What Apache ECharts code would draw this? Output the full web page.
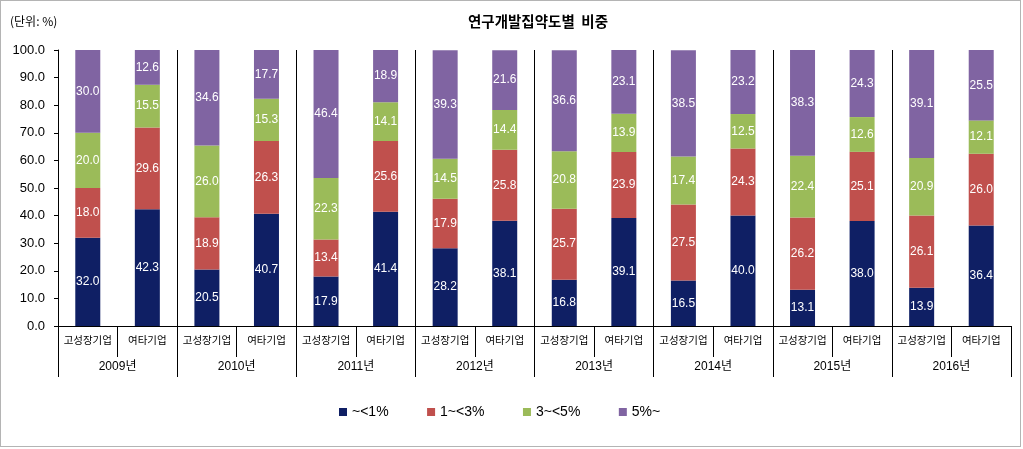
<!DOCTYPE html>
<html>
<head>
<meta charset="utf-8">
<script src="https://cdn.jsdelivr.net/npm/echarts@6/dist/echarts.min.js"></script>
<style>
html,body{margin:0;padding:0;background:#fff;}
#c{width:1023px;height:449px;}
#b{position:absolute;left:0;top:0;width:1021px;height:447px;border:1px solid #b4b4b4;box-sizing:border-box;pointer-events:none;}
</style>
</head>
<body>
<div id="c"></div>
<div id="b"></div>
<script>
const years = ['2009년','2010년','2011년','2012년','2013년','2014년','2015년','2016년'];
const groups = ['고성장기업','여타기업'];
const seriesNames = ['~<1%','1~<3%','3~<5%','5%~'];
const s1 = [32.0,42.3,20.5,40.7,17.9,41.4,28.2,38.1,16.8,39.1,16.5,40.0,13.1,38.0,13.9,36.4];
const s2 = [18.0,29.6,18.9,26.3,13.4,25.6,17.9,25.8,25.7,23.9,27.5,24.3,26.2,25.1,26.1,26.0];
const s3 = [20.0,15.5,26.0,15.3,22.3,14.1,14.5,14.4,20.8,13.9,17.4,12.5,22.4,12.6,20.9,12.1];
const s4 = [30.0,12.6,34.6,17.7,46.4,18.9,39.3,21.6,36.6,23.1,38.5,23.2,38.3,24.3,39.1,25.5];
const colors = ['#0f1f64','#c0504d','#9bbb59','#8064a2'];

const cats = [];
years.forEach(y => groups.forEach(g => cats.push(g)));
const FONT = '"Liberation Sans", Arial, "Noto Sans CJK KR", sans-serif';
const KFONT = '"Noto Sans CJK KR", "Liberation Sans", sans-serif';

const GL = 58, GR = 12, GT = 50, GB = 123;
const groupW = (1023 - GL - GR) / years.length;
const innerYears = years.slice(1, years.length - 1);

const chart = echarts.init(document.getElementById('c'));
const data = [s1,s2,s3,s4];

chart.setOption({
  animation: false,
  textStyle: {fontFamily: FONT},
  title: {
    text: '연구개발집약도별  비중',
    left: 468, top: 14, padding: 0,
    textStyle: {fontFamily: KFONT, fontSize: 14.5, fontWeight: 'bold', color: '#000'}
  },
  graphic: [{
    type: 'text', left: 10, top: 15,
    style: {text: '(단위: %)', font: '12px ' + KFONT, fill: '#000'}
  }],
  legend: {
    left: 339, top: 405, padding: 0,
    itemWidth: 8, itemHeight: 8, itemGap: 38.5,
    icon: 'rect',
    textStyle: {fontFamily: FONT, fontSize: 14, color: '#000'},
    data: seriesNames
  },
  grid: [
    {left: GL, right: GR, top: GT, bottom: GB},
    {left: GL + groupW, right: GR + groupW, top: GT, bottom: GB}
  ],
  xAxis: [
    {
      type: 'category', data: cats, position: 'bottom', gridIndex: 0,
      axisLine: {show: true, lineStyle: {color: '#000', width: 1}},
      axisTick: {show: true, interval: 0, length: 31, lineStyle: {color: '#000'}},
      axisLabel: {interval: 0, margin: 9, fontFamily: KFONT, fontSize: 10.5, color: '#000'},
      splitLine: {show: false}
    },
    {
      type: 'category', data: years, position: 'bottom', gridIndex: 0,
      axisLine: {show: false},
      axisTick: {show: true, interval: 0, length: 51, lineStyle: {color: '#000'}},
      axisLabel: {interval: 0, margin: 35, fontFamily: FONT, fontSize: 12, color: '#000'},
      splitLine: {show: false}
    },
    {
      type: 'category', data: innerYears, position: 'top', gridIndex: 1,
      axisLine: {show: false},
      axisTick: {show: true, interval: 0, length: 8, lineStyle: {color: '#000'}},
      axisLabel: {show: false},
      splitLine: {show: true, interval: 0, lineStyle: {color: '#000', width: 1}}
    }
  ],
  yAxis: [
    {
      type: 'value', min: 0, max: 100, interval: 10, gridIndex: 0,
      axisLine: {show: true, lineStyle: {color: '#000'}},
      axisTick: {show: true, length: 4, lineStyle: {color: '#000'}},
      axisLabel: {margin: 13, fontFamily: FONT, fontSize: 13, color: '#000',
        formatter: v => v.toFixed(1)},
      splitLine: {show: false}
    },
    {
      type: 'value', min: 0, max: 100, gridIndex: 1, show: false
    }
  ],
  series: data.map((d, i) => ({
    name: seriesNames[i],
    type: 'bar',
    stack: 'all',
    xAxisIndex: 0,
    yAxisIndex: 0,
    barWidth: 25,
    data: d,
    itemStyle: {color: colors[i]},
    label: {
      show: true, position: 'inside', color: '#fff',
      fontFamily: '"Liberation Sans Narrow", "Liberation Sans", Arial, sans-serif',
      fontSize: 12,
      formatter: p => p.value.toFixed(1)
    }
  }))
});
</script>
</body>
</html>
